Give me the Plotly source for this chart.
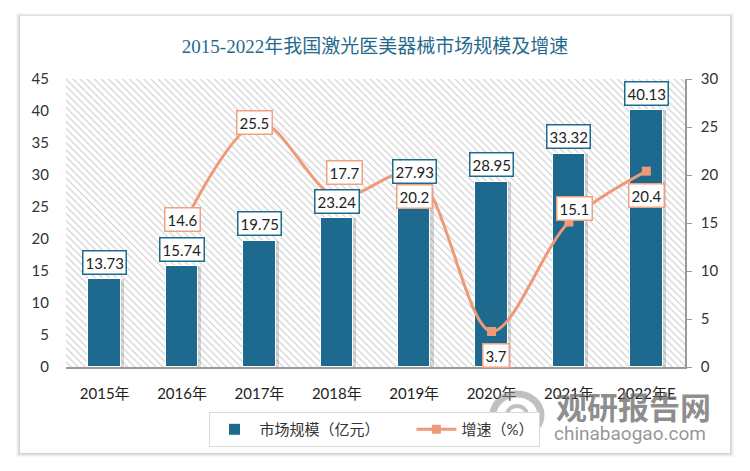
import plotly.graph_objects as go

# Data
years = ['2015年', '2016年', '2017年', '2018年', '2019年', '2020年', '2021年', '2022年E']
market_size = [13.73, 15.74, 19.75, 23.24, 27.93, 28.95, 33.32, 40.13]
growth = [None, 14.6, 25.5, 17.7, 20.2, 3.7, 15.1, 20.4]

# label offsets for growth boxes (px): (xshift, yshift)
growth_label_shift = [None, (0, 7), (-5, 0), (8, 25), (0, -23), (4, -24), (6, 14), (0, -24)]

BAR_COLOR = '#1d6a8e'
LINE_COLOR = '#ef9a77'
LABEL_ORANGE = '#f2a07f'
FONT = 'Lato, Noto Sans CJK SC, sans-serif'

# plot area in page pixels
L, R, T, B = 66, 685, 79, 367


def px_x(x):
    return (x - L) / (R - L)


def px_y(y):
    return (B - y) / (B - T)


fig = go.Figure()

# hatched plot background
fig.add_trace(go.Bar(
    x=[years[0]], y=[45], offset=-0.5, width=len(years),
    marker=dict(color='white', line=dict(width=0),
                pattern=dict(shape='\\', fgcolor='#cfcfcf', bgcolor='white',
                             size=5, solidity=0.22, fillmode='replace')),
    hoverinfo='skip', showlegend=False,
))

# soft bar shadow
fig.add_trace(go.Bar(
    x=years, y=market_size, offset=-0.17, width=0.42,
    marker=dict(color='rgba(60,60,60,0.2)', line=dict(width=0)),
    hoverinfo='skip', showlegend=False,
))

fig.add_trace(go.Bar(
    x=years, y=market_size, offset=-0.21, width=0.42,
    marker=dict(color=BAR_COLOR, line=dict(color='white', width=1)),
    name='市场规模（亿元）' + '\u00a0' * 7,
))

fig.add_trace(go.Scatter(
    x=years, y=growth, yaxis='y2', mode='lines+markers',
    line=dict(color=LINE_COLOR, width=3, shape='spline', smoothing=0.9),
    marker=dict(symbol='square', size=9, color=LINE_COLOR),
    name='增速（%）',
))

annotations = []
for yr, v in zip(years, market_size):
    annotations.append(dict(
        x=yr, y=v, xref='x', yref='y', text=str(v),
        showarrow=False, yshift=17, font=dict(size=15, color='#222', family=FONT),
        bgcolor='white', bordercolor=BAR_COLOR, borderwidth=1.5, borderpad=2,
    ))
for yr, g, sh in zip(years, growth, growth_label_shift):
    if g is None:
        continue
    annotations.append(dict(
        x=yr, y=g, xref='x', yref='y2', text=str(g),
        showarrow=False, xshift=sh[0], yshift=sh[1],
        font=dict(size=15, color='#222', family=FONT),
        bgcolor='white', bordercolor=LABEL_ORANGE, borderwidth=1.5, borderpad=2,
    ))

# watermark
annotations.append(dict(
    x=px_x(633), y=px_y(405), xref='paper', yref='paper', text='<b>观研报告网</b>',
    showarrow=False, xanchor='center', yanchor='middle',
    font=dict(size=31, color='rgba(105,105,105,0.75)', family='Noto Sans CJK SC'),
))
annotations.append(dict(
    x=px_x(630), y=px_y(433), xref='paper', yref='paper', text='chinabaogao.com',
    showarrow=False, xanchor='center', yanchor='middle',
    font=dict(size=19, color='rgba(115,115,115,0.75)', family='Roboto, sans-serif'),
))


def px_rect(x0, y0, x1, y1):
    return dict(x0=px_x(x0), x1=px_x(x1), y0=px_y(y1), y1=px_y(y0))


shapes = []
for i, a in enumerate([0.03, 0.04, 0.05, 0.06]):
    d = 4 - i
    shapes.append(dict(type='rect', xref='paper', yref='paper', layer='below',
                       fillcolor=f'rgba(0,0,0,{a})', line=dict(width=0),
                       **px_rect(20 - d, 16 - d + 1, 730 + d, 453 + d)))
shapes.append(dict(type='rect', xref='paper', yref='paper', layer='below',
                   fillcolor='white', line=dict(width=0),
                   **px_rect(20, 16, 730, 453)))
# watermark logo (rough swirl)
shapes.append(dict(type='circle', xref='paper', yref='paper', layer='above',
                   fillcolor='rgba(0,0,0,0)', line=dict(color='rgba(140,140,140,0.55)', width=7),
                   **px_rect(493, 394, 541, 436)))
shapes.append(dict(type='circle', xref='paper', yref='paper', layer='above',
                   fillcolor='rgba(0,0,0,0)', line=dict(color='rgba(140,140,140,0.55)', width=4),
                   **px_rect(507, 406, 527, 424)))

fig.update_layout(
    width=750, height=471,
    margin=dict(l=L, r=750 - R, t=T, b=471 - B),
    paper_bgcolor='white', plot_bgcolor='rgba(0,0,0,0)',
    barmode='overlay', bargap=0,
    title=dict(text='2015-2022年我国激光医美器械市场规模及增速', x=0.5, xanchor='center',
               y=1 - 46 / 471, yanchor='middle',
               font=dict(size=19, color='#1f6a8c', family='Liberation Serif, Noto Sans CJK SC')),
    font=dict(family=FONT, size=15, color='#333'),
    xaxis=dict(type='category', range=[-0.5, 7.5], showline=True, linecolor='#9a9a9a',
               linewidth=1.5, ticks='', showgrid=False, ticklabelstandoff=12,
               tickfont=dict(size=15, color='#222')),
    yaxis=dict(range=[0, 45], dtick=5, showgrid=False, zeroline=False, showline=False,
               tickfont=dict(size=15, color='#333'), ticks='', ticklabelstandoff=16),
    yaxis2=dict(range=[0, 30], dtick=5, overlaying='y', side='right', showgrid=False,
                zeroline=False, showline=True, linecolor='#9a9a9a', linewidth=1.5,
                ticks='outside', ticklen=5, tickcolor='#9a9a9a', ticklabelstandoff=6,
                tickfont=dict(size=15, color='#333')),
    legend=dict(orientation='h', x=px_x(374), xanchor='center', y=px_y(412),
                yanchor='top', bordercolor='#d9d9d9', borderwidth=1, bgcolor='white',
                font=dict(size=15, color='#333'), itemwidth=40),
    annotations=annotations,
    shapes=shapes,
    showlegend=True,
)

fig.write_html('out.html', config={'displayModeBar': False},
               post_script="document.body.style.margin='0';")
